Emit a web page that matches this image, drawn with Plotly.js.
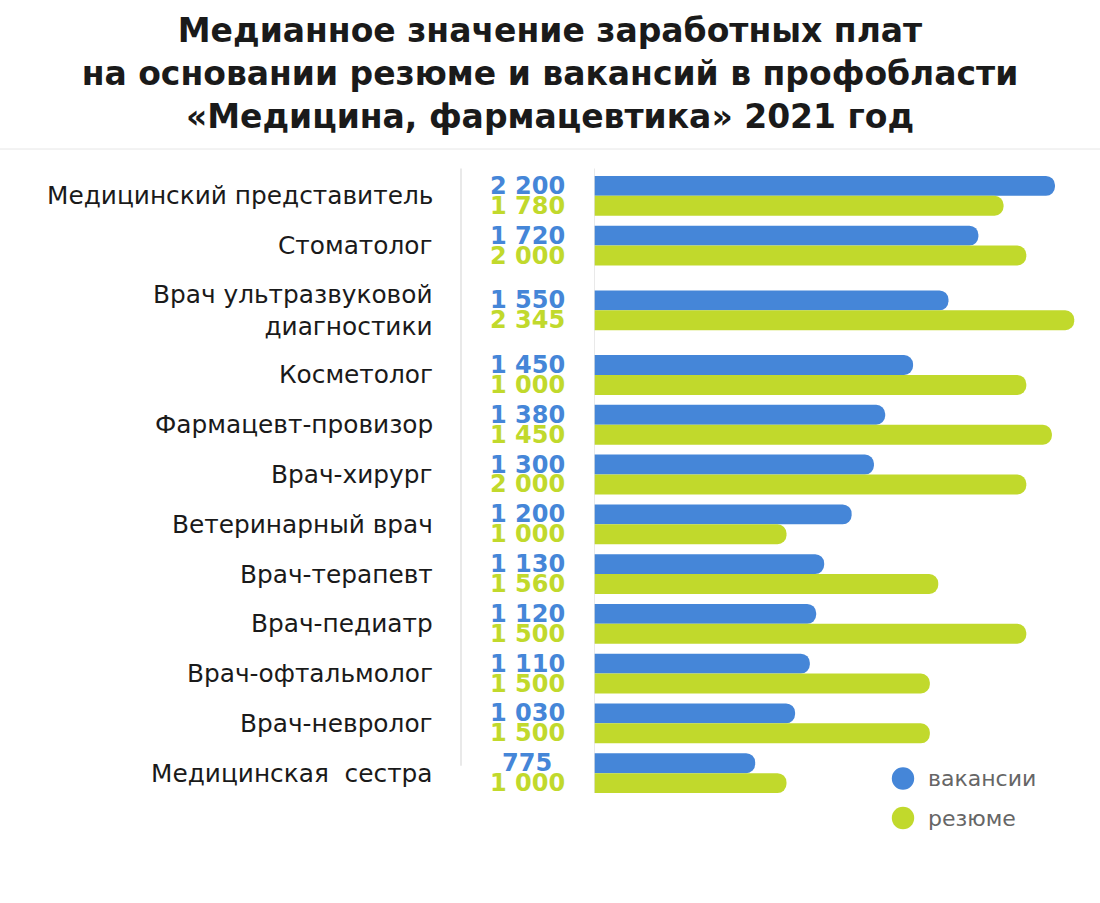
<!DOCTYPE html>
<html>
<head>
<meta charset="utf-8">
<script src="https://cdn.plot.ly/plotly-3.0.1.min.js"></script>
<style>html,body{margin:0;padding:0;background:#fff;}#chart{width:1100px;height:903px;}</style>
</head>
<body>
<div id="chart"></div>
<script>
// ---- data ----
const categories = [
  'Медицинский представитель',
  'Стоматолог',
  'Врач ультразвуковой<br>диагностики',
  'Косметолог',
  'Фармацевт-провизор',
  'Врач-хирург',
  'Ветеринарный врач',
  'Врач-терапевт',
  'Врач-педиатр',
  'Врач-офтальмолог',
  'Врач-невролог',
  'Медицинская\u00a0 сестра'
];
// printed median values
const vacancyValues = [2200, 1720, 1550, 1450, 1380, 1300, 1200, 1130, 1120, 1110, 1030, 775];
const resumeValues  = [1780, 2000, 2345, 1000, 1450, 2000, 1000, 1560, 1500, 1500, 1500, 1000];
// bar lengths as drawn in the reference (the artwork is not proportional to the printed values)
const vacancyBars = [2251, 1877, 1731, 1558, 1422, 1367, 1258, 1124, 1085, 1054, 982, 787];
const resumeBars  = [2000, 2111, 2345, 2111, 2236, 2111, 940, 1681, 2111, 1640, 1640, 940];
const seriesNames = ['вакансии', 'резюме'];
const titleText = 'Медианное значение заработных плат<br>на основании резюме и вакансий в профобласти<br>«Медицина, фармацевтика» 2021 год';

// ---- styling / layout ----
const BLUE = '#4586d8';
const GREEN = '#c1d92c';
const fmt = v => String(v).replace(/\B(?=(\d{3})+(?!\d))/g, ' ');

// category positions: extra room around two-line labels
const pos = [];
categories.forEach((c, i) => {
  if (i === 0) { pos.push(0); return; }
  const extra = (c.includes('<br>') || categories[i - 1].includes('<br>')) ? 0.3 : 0;
  pos.push(pos[i - 1] + 1 + extra);
});

const BW = 0.4;
const traces = [
  {type: 'bar', orientation: 'h', name: seriesNames[0], x: vacancyBars, y: pos,
   width: BW, offset: -BW, marker: {color: BLUE, cornerradius: 10, line: {width: 0}},
   hoverinfo: 'skip', showlegend: false},
  {type: 'bar', orientation: 'h', name: seriesNames[1], x: resumeBars, y: pos,
   width: BW, offset: 0, marker: {color: GREEN, cornerradius: 10, line: {width: 0}},
   hoverinfo: 'skip', showlegend: false}
];

const L = 594, R = 10, T = 156, B = 100, W = 1100, H = 903;
const pw = W - L - R, ph = H - T - B;
const px2paperX = px => (px - L) / pw;
const px2paperY = py => (H - B - py) / ph;

const annotations = [];
const labelFont = {family: 'DejaVu Sans, sans-serif', size: 24.8, color: '#1a1a1a'};
categories.forEach((c, i) => {
  annotations.push({xref: 'paper', yref: 'y', x: px2paperX(435), y: pos[i],
    xanchor: 'right', yanchor: 'middle', align: 'right', text: c, showarrow: false, font: labelFont});
  annotations.push({xref: 'paper', yref: 'y', x: px2paperX(527), y: pos[i] - BW / 2,
    xanchor: 'center', yanchor: 'middle', text: '<b>' + fmt(vacancyValues[i]) + '</b>', showarrow: false,
    font: {family: 'DejaVu Sans, sans-serif', size: 24, color: BLUE}});
  annotations.push({xref: 'paper', yref: 'y', x: px2paperX(527), y: pos[i] + BW / 2,
    xanchor: 'center', yanchor: 'middle', text: '<b>' + fmt(resumeValues[i]) + '</b>', showarrow: false,
    font: {family: 'DejaVu Sans, sans-serif', size: 24, color: GREEN}});
});

const legendY = [778.5, 818];
const legendColors = [BLUE, GREEN];
const shapes = [
  {type: 'line', xref: 'paper', yref: 'paper', x0: -L / pw, x1: (W - L) / pw,
   y0: px2paperY(149), y1: px2paperY(149), line: {color: '#e6e6e6', width: 1}},
  {type: 'line', xref: 'paper', yref: 'y', x0: px2paperX(461), x1: px2paperX(461),
   y0: -0.55, y1: pos[pos.length - 1] - 0.15, line: {color: '#e2e2e2', width: 1.5}},
  {type: 'line', xref: 'x', yref: 'y', x0: 0, x1: 0,
   y0: -0.55, y1: pos[pos.length - 1] + BW, line: {color: '#e2e2e2', width: 1.5}}
];
seriesNames.forEach((n, k) => {
  shapes.push({type: 'circle', xref: 'paper', yref: 'paper',
    xsizemode: 'pixel', ysizemode: 'pixel',
    xanchor: px2paperX(903), yanchor: px2paperY(legendY[k]),
    x0: -11.2, x1: 11.2, y0: -11.2, y1: 11.2,
    fillcolor: legendColors[k], line: {width: 0}});
  annotations.push({xref: 'paper', yref: 'paper', x: px2paperX(926), y: px2paperY(legendY[k]),
    xanchor: 'left', yanchor: 'middle', text: n, showarrow: false,
    font: {family: 'DejaVu Sans, sans-serif', size: 22, color: '#666666'}});
});

const layout = {
  width: W, height: H,
  margin: {l: L, r: R, t: T, b: B, pad: 0},
  paper_bgcolor: '#ffffff', plot_bgcolor: '#ffffff',
  title: {text: titleText, x: 0.5, xref: 'container', xanchor: 'center',
    y: 0.953, yref: 'container', yanchor: 'top',
    font: {family: 'DejaVu Sans, sans-serif', size: 33, color: '#1a1a1a', weight: 'bold'}},
  xaxis: {range: [0, 2422], visible: false, fixedrange: true},
  yaxis: {range: [pos[pos.length - 1] + 0.6, -0.8], visible: false, fixedrange: true},
  barmode: 'overlay',
  showlegend: false,
  annotations: annotations,
  shapes: shapes
};

Plotly.newPlot('chart', traces, layout, {displayModeBar: false, staticPlot: true});
</script>
</body>
</html>
